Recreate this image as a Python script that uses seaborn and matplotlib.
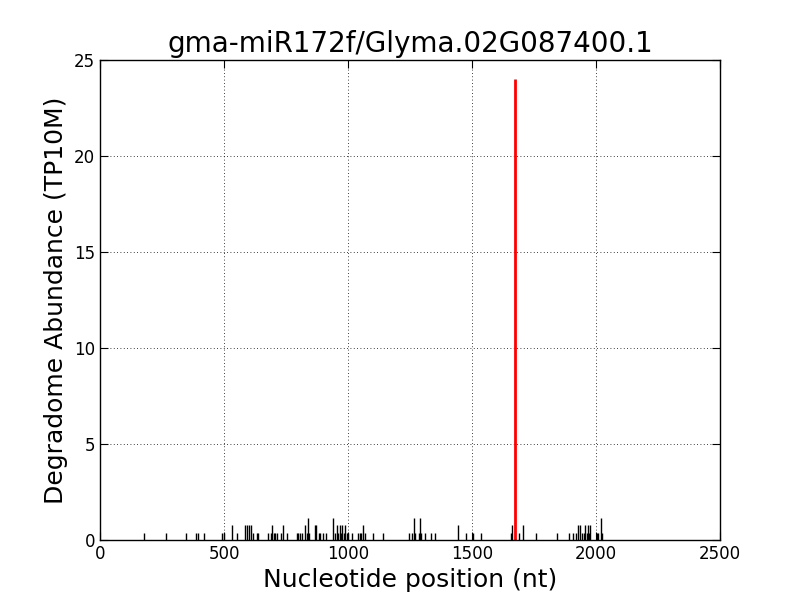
import matplotlib
matplotlib.use("Agg")
import matplotlib.pyplot as plt
import seaborn as sns
import numpy as np

sns.set_style("ticks")
plt.rcParams['font.family'] = ['DejaVu Sans']
plt.rcParams['text.color'] = 'black'
plt.rcParams['axes.labelcolor'] = 'black'
plt.rcParams['xtick.color'] = 'black'
plt.rcParams['ytick.color'] = 'black'

title = "gma-miR172f/Glyma.02G087400.1"
# background degradome peaks (position nt, abundance TP10M)
positions = [179, 265, 347, 387, 395, 419, 493, 500, 531, 551, 585, 592, 600, 608, 618, 633,
             636, 676, 690, 694, 700, 706, 715, 730, 738, 753, 793, 800, 806, 813, 827, 833, 840, 844,
             867, 872, 883, 887, 899, 911, 941, 948, 954, 960, 968, 972, 977, 983, 988, 995, 999,
             1015, 1040, 1047, 1053, 1060, 1070, 1102, 1142,
             1247, 1260, 1266, 1272, 1285, 1290, 1295, 1310, 1335, 1351, 1445, 1476, 1503, 1535,
             1657, 1663, 1690, 1707, 1757, 1841, 1892, 1908, 1919, 1929, 1935, 1942, 1950, 1956,
             1962, 1966, 1971, 1976, 2005, 2010, 2019, 2024]
abundance = [0.38, 0.38, 0.38, 0.38, 0.38, 0.38, 0.38, 0.38, 0.77, 0.38, 0.77, 0.77, 0.77, 0.77, 0.38, 0.38,
             0.38, 0.38, 0.38, 0.77, 0.38, 0.38, 0.38, 0.38, 0.77, 0.38, 0.38, 0.38, 0.38, 0.38, 0.77, 0.38, 1.15, 0.38,
             0.77, 0.77, 0.38, 0.38, 0.38, 0.38, 1.15, 0.38, 0.77, 0.38, 0.77, 0.38, 0.77, 0.38, 0.77, 0.38, 0.38,
             0.38, 0.38, 0.38, 0.38, 0.77, 0.38, 0.38, 0.38,
             0.38, 0.38, 1.15, 0.38, 0.38, 1.15, 0.38, 0.38, 0.38, 0.38, 0.77, 0.38, 0.38, 0.38,
             0.38, 0.77, 0.38, 0.77, 0.38, 0.38, 0.38, 0.38, 0.38, 0.77, 0.77, 0.38, 0.38, 0.77,
             0.38, 0.77, 0.38, 0.77, 0.38, 0.38, 1.15, 0.38]
# miRNA cleavage site
target_pos = [1673]
target_abund = [24.0]

fig = plt.figure(figsize=(8, 6), dpi=100)
ax = fig.add_axes([0.125, 0.1, 0.775, 0.8])
ax.vlines(positions, 0, abundance, colors='black', linewidth=1)
ax.vlines(target_pos, 0, target_abund, colors='red', linewidth=2)
ax.set_xlim(0, 2500)
ax.set_ylim(0, 25)
ax.set_xticks(np.arange(0, 2501, 500))
ax.set_yticks(np.arange(0, 26, 5))
ax.grid(True, color='black', linestyle=(0, (1, 3)), linewidth=0.6)
ax.set_axisbelow(True)
for s in ax.spines.values():
    s.set_visible(True)
    s.set_color('black')
    s.set_linewidth(1)
ax.tick_params(direction='in', top=True, right=True, length=6, labelsize=12, colors='black')
ax.set_title(title, fontsize=20, color='black')
ax.set_xlabel("Nucleotide position (nt)", fontsize=18, color='black')
ax.set_ylabel("Degradome Abundance (TP10M)", fontsize=18, color='black')
fig.savefig("out.png", dpi=100)
